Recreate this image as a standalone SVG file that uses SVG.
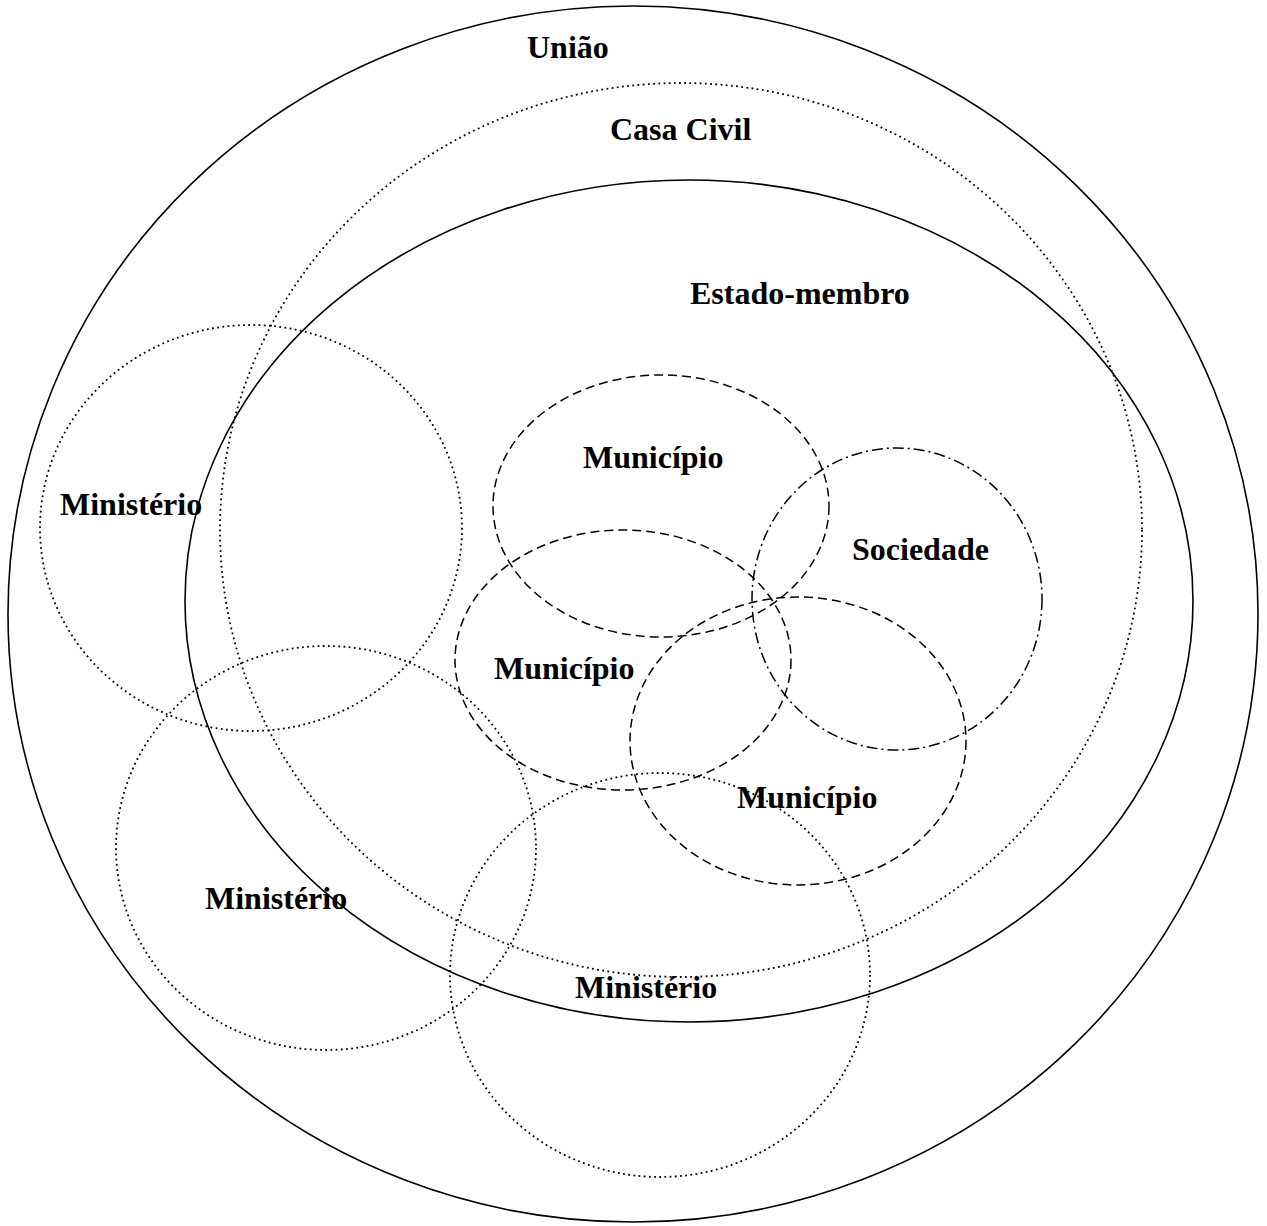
<svg xmlns="http://www.w3.org/2000/svg" width="1267" height="1226" viewBox="0 0 1267 1226">
  <style>
    .shape { fill: none; stroke: #000; }
    .solid { stroke-width: 1.6; }
    .dotted { stroke-width: 1.8; stroke-dasharray: 1.8 3.4; }
    .dashed { stroke-width: 1.5; stroke-dasharray: 9 5; }
    .dashdot { stroke-width: 1.5; stroke-dasharray: 11 4 2 4; }
    .label { font-family: "Liberation Serif", "Times New Roman", serif; font-weight: bold; font-size: 32px; fill: #000; }
  </style>
  <rect width="1267" height="1226" fill="#fff"/>

  <g id="uniao">
    <ellipse class="shape solid" cx="633" cy="614" rx="625" ry="608"/>
    <text class="label" x="527" y="58">União</text>
  </g>
  <g id="casa-civil">
    <ellipse class="shape dotted" cx="681" cy="530" rx="461" ry="447"/>
    <text class="label" x="610" y="140">Casa Civil</text>
  </g>
  <g id="estado-membro">
    <ellipse class="shape solid" cx="689" cy="601" rx="504" ry="421"/>
    <text class="label" x="690" y="304">Estado-membro</text>
  </g>
  <g id="ministerio-1">
    <ellipse class="shape dotted" cx="251" cy="528" rx="211" ry="203"/>
    <text class="label" x="60" y="515">Ministério</text>
  </g>
  <g id="ministerio-2">
    <ellipse class="shape dotted" cx="326" cy="848" rx="210" ry="202"/>
    <text class="label" x="205" y="909">Ministério</text>
  </g>
  <g id="ministerio-3">
    <ellipse class="shape dotted" cx="660" cy="975" rx="210" ry="202"/>
    <text class="label" x="575" y="998">Ministério</text>
  </g>
  <g id="municipio-1">
    <ellipse class="shape dashed" cx="661" cy="506" rx="168" ry="131"/>
    <text class="label" x="583" y="468">Município</text>
  </g>
  <g id="municipio-2">
    <ellipse class="shape dashed" cx="623" cy="660" rx="168" ry="130"/>
    <text class="label" x="494" y="679">Município</text>
  </g>
  <g id="municipio-3">
    <ellipse class="shape dashed" cx="798" cy="741" rx="168" ry="144"/>
    <text class="label" x="737" y="808">Município</text>
  </g>
  <g id="sociedade">
    <ellipse class="shape dashdot" cx="897" cy="599" rx="145" ry="151"/>
    <text class="label" x="852" y="560">Sociedade</text>
  </g>

  <g id="connectors"></g>
</svg>
